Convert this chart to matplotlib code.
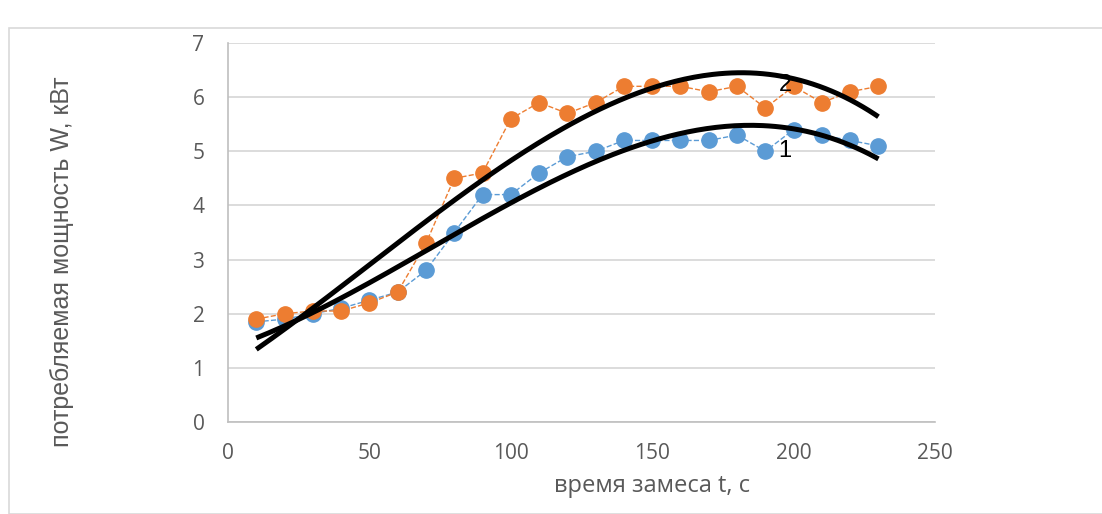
import numpy as np
import matplotlib
matplotlib.use('Agg')
import matplotlib.pyplot as plt
from matplotlib.patches import Rectangle

plt.rcParams['font.family'] = ['Open Sans', 'DejaVu Sans']

t = [10, 20, 30, 40, 50, 60, 70, 80, 90, 100, 110, 120,
     130, 140, 150, 160, 170, 180, 190, 200, 210, 220, 230]
w1 = [1.85, 1.9, 2.0, 2.1, 2.25, 2.4, 2.8, 3.5, 4.2, 4.2, 4.6, 4.9,
      5.0, 5.2, 5.2, 5.2, 5.2, 5.3, 5.0, 5.4, 5.3, 5.2, 5.1]
w2 = [1.9, 2.0, 2.05, 2.05, 2.2, 2.4, 3.3, 4.5, 4.6, 5.6, 5.9, 5.7,
      5.9, 6.2, 6.2, 6.2, 6.1, 6.2, 5.8, 6.2, 5.9, 6.1, 6.2]

blue = '#5b9bd5'
orange = '#ed7d31'
grey = '#595959'

W, H = 1102, 514
fig = plt.figure(figsize=(W / 100, H / 100), dpi=100)
ax = fig.add_axes([228 / W, 1 - 422 / H, 707 / W, 379 / H])

# outer chart frame
fig.patches.append(Rectangle((9 / W, 0), 1.0, 1 - 28 / H, transform=fig.transFigure,
                             fill=False, edgecolor='#d9d9d9', linewidth=1.2))

ax.plot(t, w1, '--', color=blue, linewidth=1, marker='o', markersize=11,
        markeredgecolor=blue, zorder=3)
ax.plot(t, w2, '--', color=orange, linewidth=1, marker='o', markersize=11,
        markeredgecolor=orange, zorder=3)

# polynomial trendlines (3rd order)
tt = np.linspace(min(t), max(t), 200)
for w in (w1, w2):
    c = np.polyfit(t, w, 3)
    ax.plot(tt, np.polyval(c, tt), color='black', linewidth=3.6, zorder=4,
            solid_capstyle='butt')

ax.text(197, 5.0, '1', fontsize=17, color='black', ha='center', va='center',
        family='Liberation Sans', zorder=5)
ax.text(197, 6.22, '2', fontsize=17, color='black', ha='center', va='center',
        family='Liberation Sans', zorder=3.5)

ax.set_xlim(0, 250)
ax.set_ylim(0, 7)
ax.set_xticks(range(0, 251, 50))
ax.set_yticks(range(0, 8))
ax.grid(axis='y', color='#d9d9d9', linewidth=1.3)
ax.set_axisbelow(True)
for s in ('top', 'right'):
    ax.spines[s].set_visible(False)
for s in ('left', 'bottom'):
    ax.spines[s].set_color('#bfbfbf')
    ax.spines[s].set_linewidth(1.2)
ax.tick_params(length=0, labelsize=15, labelcolor=grey)
ax.tick_params(axis='y', pad=17)
ax.tick_params(axis='x', pad=15)

fig.text(652 / W, 1 - 486 / H, 'время замеса t, с', fontsize=17, color=grey,
         ha='center', va='center')
fig.text(62 / W, 1 - 262 / H, 'потребляемая мощность W, кВт', fontsize=18, color=grey,
         ha='center', va='center', rotation=90, family='Liberation Sans')

fig.savefig('out.png', dpi=100)
